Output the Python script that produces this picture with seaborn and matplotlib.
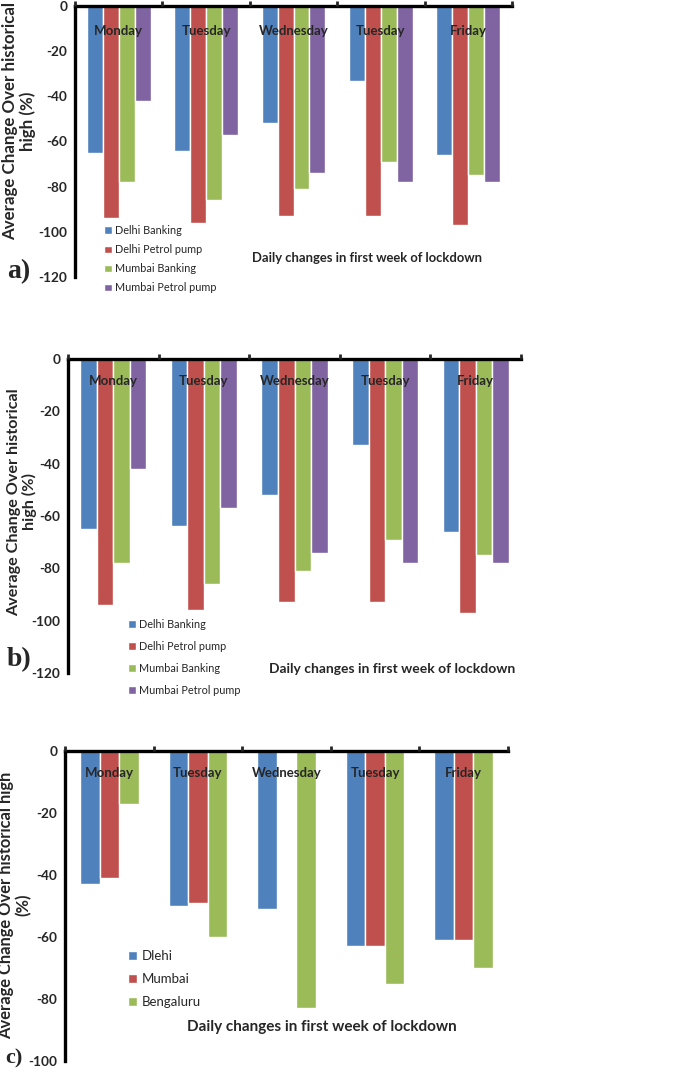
"""three panels: daily change over historical high in first week of lockdown"""

import numpy as np
import pandas as pd
import matplotlib.pyplot as plt
import seaborn as sns

day_labels = ["Monday", "Tuesday", "Wednesday", "Tuesday", "Friday"]

# panels a) and b) share the same numbers
sector_names = ["Delhi Banking", "Delhi Petrol pump", "Mumbai Banking", "Mumbai Petrol pump"]
delhi_banking = [-65, -64, -52, -33, -66]
delhi_petrol = [-94, -96, -93, -93, -97]
mumbai_banking = [-78, -86, -81, -69, -75]
mumbai_petrol = [-42, -57, -74, -78, -78]

# panel c)
city_names = ["Dlehi", "Mumbai", "Bengaluru"]
dlehi = [-43, -50, -51, -63, -61]
mumbai = [-41, -49, np.nan, -63, -61]
bengaluru = [-17, -60, -83, -75, -70]

colors4 = ["#4F81BD", "#C0504D", "#9BBB59", "#8064A2"]

W, H = 687, 1073
FONT = ["Lato", "DejaVu Sans"]


def long_df(names, series):
    rows = []
    for name, vals in zip(names, series):
        for i, v in enumerate(vals):
            rows.append({"day": i, "group": name, "value": v})
    return pd.DataFrame(rows)


def fx(px):
    return px / W


def fy(py):
    return 1 - py / H


def panel(fig, box, df, names, width, ylo, ylab, ylab_xy, letter_xy, letter,
          note_xy, leg_xy, leg_size, leg_space, tick_pad):
    left, top, right, bottom = box
    ax = fig.add_axes([fx(left), fy(bottom), fx(right - left), (bottom - top) / H])
    sns.barplot(data=df, x="day", y="value", hue="group", hue_order=names,
                palette=colors4[:len(names)], width=width, saturation=1,
                errorbar=None, ax=ax)
    ax.set_axisbelow(False)
    ax.set_xlim(-0.5, 4.5)
    ax.set_ylim(ylo, 0)
    ax.set_yticks(np.arange(ylo, 1, 20))
    ax.set_xlabel("")
    ax.set_ylabel("")

    for s in ["bottom", "right"]:
        ax.spines[s].set_visible(False)
    for s in ["left", "top"]:
        ax.spines[s].set_linewidth(2.4)
        ax.spines[s].set_color("black")

    ax.xaxis.tick_top()
    ax.set_xticks(range(5))
    ax.set_xticklabels(day_labels, fontweight="bold", fontsize=9.5, family=FONT)
    ax.set_xticks(np.arange(-0.5, 5, 1), minor=True)
    ax.tick_params(axis="x", which="major", length=0, pad=tick_pad)
    ax.tick_params(axis="x", which="minor", direction="out", length=3.5, width=2)
    ax.tick_params(axis="y", direction="out", length=3.5, width=2, pad=2)
    for t in ax.get_yticklabels():
        t.set_fontweight("bold")
        t.set_fontsize(9.8)
        t.set_family(FONT)

    fig.text(fx(ylab_xy[0]), fy(ylab_xy[1]), ylab, rotation=90, ha="center",
             va="center", multialignment="center", fontweight="bold",
             fontsize=ylab_xy[2], family=FONT, linespacing=1.1)
    fig.text(fx(letter_xy[0]), fy(letter_xy[1]), letter, ha="left", va="center",
             fontweight="bold", fontsize=letter_xy[2],
             family=["Liberation Serif", "DejaVu Serif"])
    fig.text(fx(note_xy[0]), fy(note_xy[1]), "Daily changes in first week of lockdown",
             ha="center", va="center", fontweight="bold", fontsize=note_xy[2],
             family=FONT)

    sns.move_legend(ax, "upper left", bbox_to_anchor=(fx(leg_xy[0]), fy(leg_xy[1])),
                    bbox_transform=fig.transFigure, frameon=False, title=None,
                    handlelength=0.7, handleheight=0.7,
                    handletextpad=0.35, labelspacing=leg_space, borderpad=0,
                    borderaxespad=0, prop={"family": FONT, "size": leg_size})
    return ax


sns.set_theme(style="white")
plt.rcParams["font.family"] = FONT
plt.rcParams["axes.unicode_minus"] = False

fig = plt.figure(figsize=(W / 100, H / 100), dpi=100)

df_ab = long_df(sector_names, [delhi_banking, delhi_petrol, mumbai_banking, mumbai_petrol])
df_c = long_df(city_names, [dlehi, mumbai, bengaluru])

ylab_ab = "Average Change Over historical\nhigh (%)"
ylab_c = "Average Change Over historical high\n(%)"

panel(fig, (75, 6, 512, 277), df_ab, sector_names, 0.73, -120, ylab_ab,
      (19, 121, 12.2), (7, 272, 20), "a)", (367, 258, 9.4), (104, 225), 7.8, 0.75, -22)
panel(fig, (68, 359, 521, 673), df_ab, sector_names, 0.73, -120, ylab_ab,
      (22, 502, 11.6), (7, 660, 20), "b)", (392, 669, 10), (128, 619), 7.8, 1.0, -20)
panel(fig, (65, 751, 508, 1061), df_c, city_names, 0.66, -100, ylab_c,
      (15, 905, 11.9), (5, 1058, 16), "c)", (322, 1027, 11), (128, 950), 9.5, 0.85, -20)

fig.savefig("out.png", dpi=100)
plt.close(fig)
